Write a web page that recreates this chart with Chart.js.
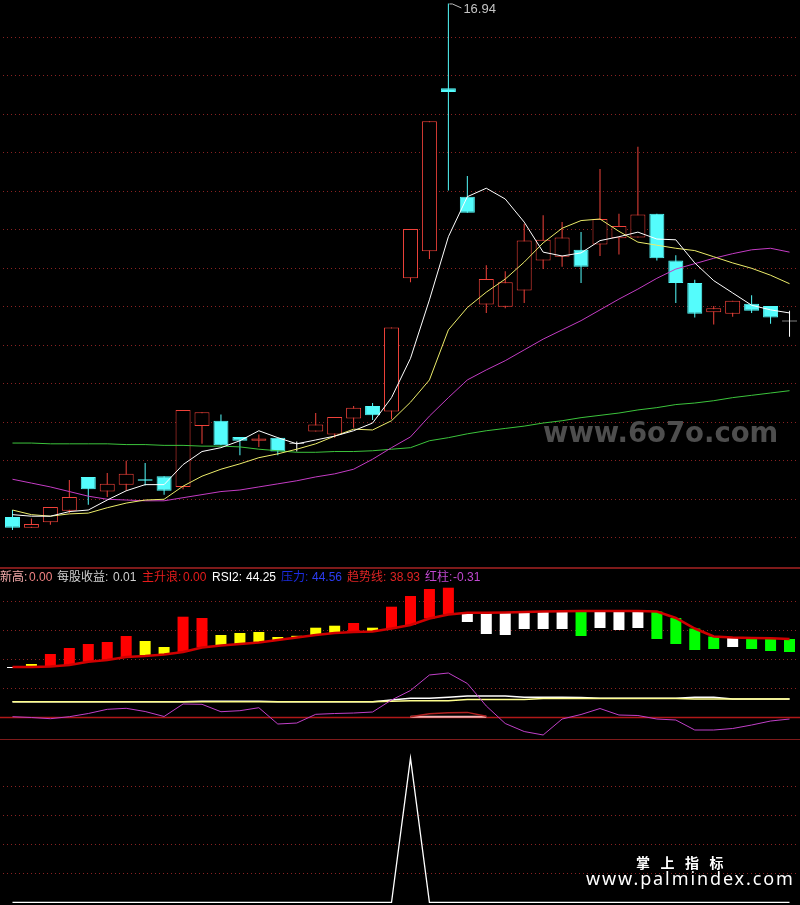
<!DOCTYPE html>
<html>
<head>
<meta charset="utf-8">
<script src="https://cdn.jsdelivr.net/npm/chart.js@4.4.1/dist/chart.umd.min.js"></script>
<style>
body{margin:0;background:#000;}
#wrap{position:relative;width:800px;height:905px;background:#000;overflow:hidden;}
canvas{position:absolute;left:0;}
.sep{position:absolute;left:0;width:800px;height:1px;background:#7e1a1a;}
.txt{position:absolute;white-space:pre;line-height:12px;font-size:12px;font-family:"Liberation Sans","Noto Sans CJK SC",sans-serif;}
</style>
</head>
<body>
<div id="wrap">
<canvas id="kline" width="800" height="567" style="top:0"></canvas>
<div class="sep" style="top:567px;height:2px"></div>
<canvas id="trend" width="800" height="170" style="top:569px"></canvas>
<div class="sep" style="top:739px"></div>
<canvas id="spike" width="800" height="165" style="top:740px"></canvas>

<div class="txt" style="left:0;top:571px;color:#f2aaaa">新高:</div>
<div class="txt" style="left:29px;top:571px;color:#f08282">0.00</div>
<div class="txt" style="left:57px;top:571px;color:#d0d0d0">每股收益:</div>
<div class="txt" style="left:113px;top:571px;color:#d0d0d0">0.01</div>
<div class="txt" style="left:142px;top:571px;color:#e81c1c">主升浪:</div>
<div class="txt" style="left:183px;top:571px;color:#e81c1c">0.00</div>
<div class="txt" style="left:212px;top:571px;color:#ffffff">RSI2:</div>
<div class="txt" style="left:246px;top:571px;color:#ffffff">44.25</div>
<div class="txt" style="left:281px;top:571px;color:#1c2ce0">压力:</div>
<div class="txt" style="left:312px;top:571px;color:#2c3cf0">44.56</div>
<div class="txt" style="left:347px;top:571px;color:#e02424">趋势线:</div>
<div class="txt" style="left:390px;top:571px;color:#e02424">38.93</div>
<div class="txt" style="left:425px;top:571px;color:#c048d0">红柱:</div>
<div class="txt" style="left:453px;top:571px;color:#c048d0">-0.31</div>

<div class="txt" style="left:543px;top:419px;font:bold 27.5px 'DejaVu Sans';line-height:27.5px;color:#4e4e4e">www.6o7o.com</div>
<div class="txt" style="left:636px;top:855px;font:bold 14px 'Noto Sans CJK SC';line-height:14px;letter-spacing:10.5px;color:#ffffff">掌上指标</div>
<div class="txt" style="left:586px;top:869px;font:18px 'Noto Sans';line-height:18px;letter-spacing:1.9px;color:#ffffff">www.palmindex.com</div>
</div>

<script>
// ---- K line data (price) ----
var opens  = [10.27,10.13,10.20,10.35,10.79,10.60,10.69,10.76,10.80,10.66,11.45,11.52,11.31,11.26,11.30,11.22,11.38,11.34,11.55,11.71,11.64,13.37,13.72,15.84,14.43,13.03,13.00,13.21,13.60,13.65,13.74,13.81,13.89,13.90,14.21,13.60,13.31,12.93,12.91,13.04,13.01,12.81];
var closes = [10.13,10.18,10.40,10.53,10.63,10.70,10.83,10.74,10.61,11.66,11.63,11.20,11.26,11.29,11.12,11.22,11.47,11.57,11.69,11.59,12.73,14.01,15.41,15.79,14.22,13.36,13.32,13.86,13.87,13.90,13.52,14.14,14.05,14.20,13.63,13.31,12.91,12.98,13.08,12.95,12.86,12.81];
var highs  = [10.36,10.25,10.40,10.75,10.79,10.84,11.00,10.97,10.80,11.66,11.63,11.60,11.31,11.34,11.30,11.25,11.62,11.57,11.71,11.75,12.73,14.01,15.41,16.94,14.70,13.54,13.46,14.08,14.19,14.10,13.97,14.79,14.21,15.08,14.21,13.67,13.35,13.01,13.08,13.15,13.01,12.95];
var lows   = [10.10,10.13,10.17,10.32,10.43,10.53,10.61,10.68,10.56,10.63,11.22,11.20,11.07,11.18,11.07,11.12,11.38,11.30,11.43,11.53,11.54,13.32,13.62,14.51,14.22,12.92,12.98,13.05,13.49,13.52,13.31,13.66,13.68,13.90,13.60,13.05,12.86,12.77,12.87,12.92,12.78,12.61];

var ma5  = [10.30,10.28,10.28,10.34,10.36,10.49,10.61,10.69,10.69,10.95,11.12,11.17,11.26,11.39,11.30,11.22,11.27,11.32,11.39,11.49,11.82,12.33,13.09,13.91,14.43,14.54,14.40,14.10,13.71,13.66,13.70,13.86,13.91,13.97,13.88,13.87,13.57,13.34,13.18,13.02,12.96,12.92];
var ma10 = [10.36,10.30,10.28,10.31,10.32,10.39,10.45,10.49,10.50,10.67,10.80,10.89,10.96,11.04,11.09,11.15,11.22,11.32,11.41,11.40,11.52,11.76,12.05,12.70,12.99,13.19,13.36,13.58,13.83,14.02,14.12,14.14,13.98,13.84,13.80,13.76,13.73,13.65,13.57,13.50,13.41,13.30];
var ma20 = [10.76,10.71,10.66,10.60,10.54,10.50,10.49,10.48,10.48,10.52,10.56,10.60,10.62,10.66,10.70,10.74,10.79,10.83,10.89,11.02,11.17,11.31,11.58,11.82,12.05,12.18,12.30,12.44,12.58,12.70,12.82,12.96,13.10,13.23,13.37,13.49,13.56,13.63,13.69,13.74,13.76,13.71];
var ma60 = [11.23,11.23,11.22,11.22,11.22,11.22,11.21,11.21,11.20,11.20,11.19,11.19,11.18,11.15,11.13,11.11,11.11,11.12,11.12,11.13,11.15,11.17,11.26,11.30,11.35,11.39,11.42,11.45,11.49,11.52,11.56,11.59,11.62,11.66,11.69,11.73,11.75,11.78,11.82,11.85,11.88,11.91];
var priceGrid = [10,10.5,11,11.5,12,12.5,13,13.5,14,14.5,15,15.5,16,16.5];

// ---- trend indicator panel ----
var trendLine = [17.34,17.34,17.52,18.03,19.17,19.76,20.79,21.14,21.66,22.52,24.07,24.76,25.28,25.79,26.66,27.52,28.38,29.07,29.41,29.59,30.62,31.83,34.07,35.45,36.07,36.07,36.14,36.31,36.48,36.55,36.66,36.66,36.66,36.66,36.48,34.24,30.62,27.86,27.52,27.34,27.24,27.00];
var barEnd    = [17.00,18.38,21.83,23.90,25.28,25.97,28.03,26.31,24.24,34.69,34.24,28.38,29.07,29.41,27.69,28.10,30.90,31.59,32.52,30.90,38.14,41.83,44.24,44.69,32.86,28.72,28.38,30.45,30.45,30.45,28.03,30.79,30.10,30.79,27.00,25.28,23.21,23.55,24.24,23.55,22.86,22.52];
var barKind   = ['W','Y','R','R','R','R','R','Y','Y','R','R','Y','Y','Y','Y','Y','Y','Y','R','Y','R','R','R','R','W','W','W','W','W','W','G','W','W','W','G','G','G','G','W','G','G','G'];
var rsi2      = [0.21,-0.07,-0.48,0.21,1.31,2.76,3.10,2.00,0.28,4.59,4.48,1.93,2.28,3.31,-2.31,-1.97,1.03,1.31,1.48,1.83,5.97,9.24,14.59,15.28,11.66,3.90,-2.14,-4.90,-6.10,-0.59,0.97,3.03,0.79,0.62,-0.59,-0.93,-4.38,-4.38,-3.86,-2.66,-1.28,-0.59];
var pressure  = [5.38,5.38,5.38,5.38,5.38,5.38,5.38,5.38,5.38,5.38,5.38,5.38,5.38,5.38,5.38,5.38,5.38,5.38,5.38,5.38,5.52,5.72,5.72,5.72,6.14,6.14,6.14,6.14,6.48,6.48,6.48,6.48,6.48,6.48,6.48,6.48,6.31,6.31,6.31,6.31,6.31,6.31];
var support   = [5.38,5.38,5.38,5.38,5.38,5.38,5.38,5.38,5.38,5.38,5.52,5.52,5.52,5.52,5.38,5.38,5.38,5.38,5.38,5.38,5.97,6.55,6.55,6.90,7.34,7.34,7.34,6.90,6.90,6.90,6.83,6.55,6.55,6.55,6.55,6.55,6.90,6.90,6.31,6.31,6.31,6.31];
var heat      = [null,null,null,null,null,null,null,null,null,null,null,null,null,null,null,null,null,null,null,null,null,0.2,1.2,1.6,1.7,0.4,null,null,null,null,null,null,null,null,null,null,null,null,null,null,null,null];
var heatBase  = [null,null,null,null,null,null,null,null,null,null,null,null,null,null,null,null,null,null,null,null,null,0.2,0.2,0.2,0.2,0.2,null,null,null,null,null,null,null,null,null,null,null,null,null,null,null,null];
var zeroLevel = 0;
var trendGrid = [10,20,30,40];

// ---- signal panel ----
var signal = [0,0,0,0,0,0,0,0,0,0,0,0,0,0,0,0,0,0,0,0,0,5,0,0,0,0,0,0,0,0,0,0,0,0,0,0,0,0,0,0,0,0];
var signalGrid = [1,2,3,4];

var days = opens.map(function (_, i) { return String(i + 1); });

// colours
var GRID = '#8a2222';
var UP = '#f0423a', DOWN = '#54fcfc', FLAT = '#ffffff';
var kindColor = { R: '#ff0000', Y: '#ffff00', W: '#ffffff', G: '#00ff00' };

var tone = opens.map(function (o, i) {
    return closes[i] > o ? UP : (closes[i] < o ? DOWN : FLAT);
});

function gridAxis(min, max, vals) {
    return {
        min: min, max: max,
        ticks: { display: false },
        grid: { color: GRID, drawTicks: false, lineWidth: 1 },
        border: { display: false, dash: [1, 3] },
        afterBuildTicks: function (axis) {
            axis.ticks = vals.map(function (v) { return { value: v }; });
        }
    };
}

function baseOptions(yAxis) {
    return {
        responsive: false,
        animation: false,
        layout: { padding: { left: 3, right: 1, top: 0, bottom: 0 } },
        plugins: { legend: { display: false }, tooltip: { enabled: false } },
        scales: {
            x: { display: false, offset: true },
            y: yAxis
        }
    };
}

function line(data, color, width, order) {
    return { type: 'line', data: data, borderColor: color, borderWidth: width, pointRadius: 0, tension: 0, order: order };
}

// label at the top of the highest wick
var highLabel = {
    id: 'highLabel',
    afterDatasetsDraw: function (chart) {
        var ctx = chart.ctx, xs = chart.scales.x, ys = chart.scales.y;
        var top = Math.max.apply(null, highs);
        var i = highs.indexOf(top);
        var px = xs.getPixelForValue(i), py = ys.getPixelForValue(top);
        ctx.save();
        ctx.strokeStyle = '#bdbdbd';
        ctx.lineWidth = 1;
        ctx.beginPath();
        ctx.moveTo(px + 1, py + 0.5);
        ctx.lineTo(px + 4, py + 0.5);
        ctx.lineTo(px + 13, py + 4.5);
        ctx.stroke();
        ctx.fillStyle = '#c4c4c4';
        ctx.font = '13px "Liberation Sans"';
        ctx.textBaseline = 'middle';
        ctx.fillText(top.toFixed(2), px + 15, py + 5.5);
        ctx.restore();
    }
};

new Chart(document.getElementById('kline'), {
    type: 'bar',
    data: {
        labels: days,
        datasets: [
            line(ma5, '#ffffff', 1, 0),
            line(ma10, '#ecec6a', 1, 1),
            line(ma20, '#c43cc4', 1, 2),
            line(ma60, '#3cc43c', 1, 3),
            {
                label: 'body',
                data: opens.map(function (o, i) { return [o, closes[i]]; }),
                backgroundColor: tone.map(function (c) { return c === UP ? '#000000' : c; }),
                borderColor: tone,
                borderWidth: 1,
                borderSkipped: false,
                barThickness: 15,
                minBarLength: 1,
                inflateAmount: 0,
                grouped: false,
                order: 5
            },
            {
                label: 'wick',
                data: lows.map(function (l, i) { return [l, highs[i]]; }),
                backgroundColor: tone,
                borderWidth: 0,
                barThickness: 1,
                inflateAmount: 0,
                grouped: false,
                order: 6
            }
        ]
    },
    options: baseOptions(gridAxis(9.62, 16.985, priceGrid)),
    plugins: [highLabel]
});

// red zero line across the whole panel
var zeroLine = {
    id: 'zeroLine',
    beforeDatasetsDraw: function (chart) {
        var ctx = chart.ctx, y = Math.round(chart.scales.y.getPixelForValue(zeroLevel)) + 0.5;
        ctx.save();
        ctx.strokeStyle = '#b01818';
        ctx.lineWidth = 1.5;
        ctx.beginPath();
        ctx.moveTo(0, y);
        ctx.lineTo(800, y);
        ctx.stroke();
        ctx.restore();
    }
};

new Chart(document.getElementById('trend'), {
    type: 'bar',
    data: {
        labels: days,
        datasets: [
            line(trendLine, '#d00000', 2.5, 1),
            line(rsi2, '#c040c8', 1, 2),
            line(pressure, '#ffff8c', 1.5, 3),
            line(support, '#ffffff', 1.5, 4),
            line(heat, '#b02020', 1.5, 5),
            line(heatBase, '#f4b0b0', 2, 6),
            {
                label: 'bars',
                data: trendLine.map(function (t, i) { return [t, barEnd[i]]; }),
                backgroundColor: barKind.map(function (k) { return kindColor[k]; }),
                borderWidth: 0,
                barThickness: 11,
                inflateAmount: 0,
                grouped: false,
                order: 10
            }
        ]
    },
    options: baseOptions(gridAxis(-7.48, 51.14, trendGrid)),
    plugins: [zeroLine]
});

new Chart(document.getElementById('spike'), {
    type: 'line',
    data: {
        labels: days,
        datasets: [line(signal, '#ffffff', 1.3, 0)]
    },
    options: baseOptions(gridAxis(-0.094, 5.626, signalGrid))
});
</script>
</body>
</html>
